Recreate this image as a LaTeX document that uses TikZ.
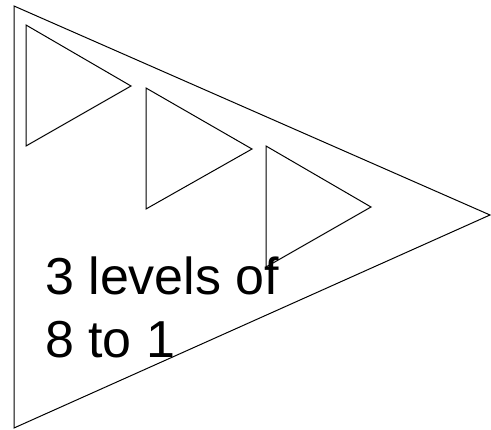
\documentclass[tikz,border=0pt]{standalone}
\usepackage{fontspec}
\setmainfont{Liberation Sans}
\usetikzlibrary{positioning}

\begin{document}
\begin{tikzpicture}[
    x=1pt, y=-1pt,
    tri/.style={draw, line width=1pt, line join=miter},
    lbl/.style={anchor=base west, inner sep=0pt, font=\fontsize{52}{63}\selectfont}]
  \useasboundingbox (0,0) rectangle (491,430);
  % outer mux
  \draw[tri] (14,6) -- (490,215) -- (14,428) -- cycle;
  % three inner stages
  \draw[tri] (26,25) -- (131,86) -- (26,146) -- cycle;
  \draw[tri] (146,88) -- (252,149) -- (146,209) -- cycle;
  \draw[tri] (266,146) -- (371,207) -- (266,267) -- cycle;
  \node[lbl] (lv) at (45,295) {3 levels of};
  \node[lbl] (rt) at (45,358) {8 to 1};
\end{tikzpicture}
\end{document}
